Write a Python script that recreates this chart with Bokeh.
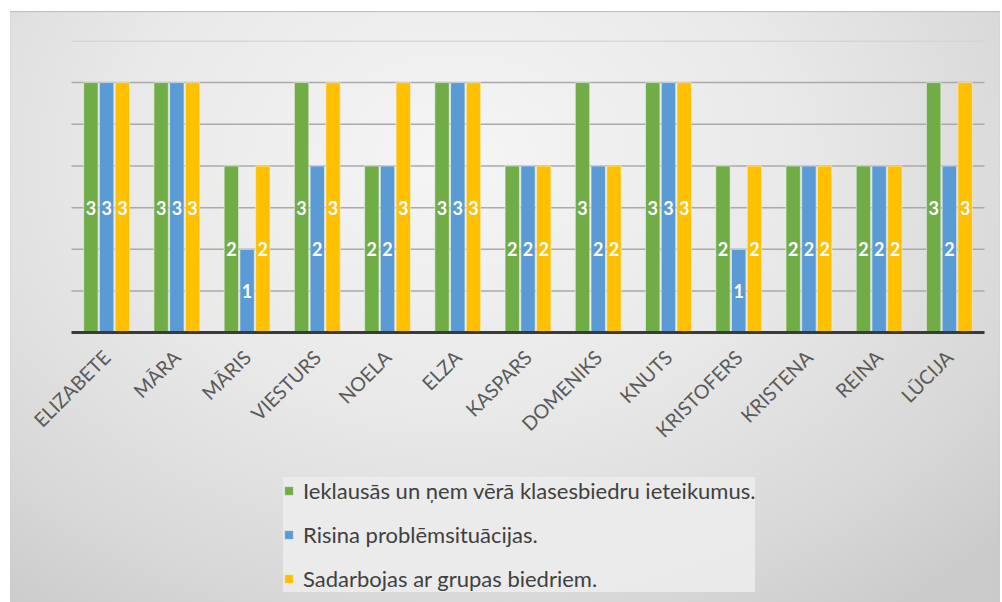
import math
from bokeh.plotting import figure
from bokeh.models import ColumnDataSource, Legend, LegendItem, InlineStyleSheet, Range1d, FixedTicker
from bokeh.transform import dodge
from bokeh.core.properties import value
from bokeh.embed import file_html
from bokeh.resources import INLINE

names = ["ELIZABETE", "MĀRA", "MĀRIS", "VIESTURS", "NOELA", "ELZA", "KASPARS",
         "DOMENIKS", "KNUTS", "KRISTOFERS", "KRISTENA", "REINA", "LŪCIJA"]
ieklausas = [3, 3, 2, 3, 2, 3, 2, 3, 3, 2, 2, 2, 3]
risina = [3, 3, 1, 2, 2, 3, 2, 2, 3, 1, 2, 2, 2]
sadarbojas = [3, 3, 2, 3, 3, 3, 2, 2, 3, 2, 2, 2, 3]
series_names = ["Ieklausās un ņem vērā klasesbiedru ieteikumus.",
                "Risina problēmsituācijas.",
                "Sadarbojas ar grupas biedriem."]
colors = ["#70AD47", "#5B9BD5", "#FFC000"]
grid_ticks = [0.5, 1.0, 1.5, 2.0, 2.5, 3.0]
top_tick = 3.5

n = len(names)
idx = list(range(n))
src = ColumnDataSource(dict(
    x=idx,
    s1=ieklausas, s2=risina, s3=sadarbojas,
    m1=[v / 2 for v in ieklausas], m2=[v / 2 for v in risina], m3=[v / 2 for v in sadarbojas],
    t1=[str(v) for v in ieklausas], t2=[str(v) for v in risina], t3=[str(v) for v in sadarbojas],
))

# frame spans the whole figure; categories occupy px 71..984 (70.23 px per category)
left_pad = 61 / 70.23
right_pad = 16 / 70.23
p = figure(x_range=Range1d(-0.5 - left_pad, n - 0.5 + right_pad), y_range=Range1d(-3.212, 3.505),
           width=990, height=591, output_backend="svg", toolbar_location=None,
           min_border_left=0, min_border_right=0, min_border_top=29, min_border_bottom=2)
p.background_fill_alpha = 0
p.border_fill_alpha = 0
p.outline_line_color = None
p.stylesheets = [InlineStyleSheet(css=":host { margin: 11px 0 0 10px; background: radial-gradient(ellipse 75% 95% at 45% 25%, #f5f5f5 0%, #e9e9e9 45%, #d8d8d8 80%, #cbcbcb 100%); box-shadow: inset 0 1px 1px #bbbbbb; }")]
p.xgrid.visible = False
p.ygrid.visible = False

# horizontal gridlines limited to the category span
p.segment(x0=[-0.5] * len(grid_ticks), x1=[n - 0.5] * len(grid_ticks), y0=grid_ticks, y1=grid_ticks,
          line_color="#aaaaaa", line_width=1.5)
p.segment(x0=[-0.5], x1=[n - 0.5], y0=[top_tick], y1=[top_tick], line_color="#d2d2d2", line_width=1.5)

offs = [-0.224, 0.0, 0.224]
renderers = []
for i, (col, off) in enumerate(zip(colors, offs)):
    r = p.vbar(x=dodge("x", off), top=f"s{i+1}", width=0.205, source=src,
               fill_color=col, line_color="#f0f0f0", line_width=1, line_alpha=0.6)
    renderers.append(r)
    p.text(x=dodge("x", off), y=f"m{i+1}", text=f"t{i+1}", source=src,
           text_color="white", text_font=value("Lato"), text_font_style="bold",
           text_font_size="18px", text_align="center", text_baseline="middle")

p.yaxis.visible = False

p.xaxis.fixed_location = 0
p.xaxis.bounds = (-0.5, n - 0.5)
p.xaxis.ticker = FixedTicker(ticks=idx)
p.xaxis.major_label_overrides = {i: nm for i, nm in enumerate(names)}
p.xaxis.major_label_orientation = math.pi / 4
p.xaxis.major_label_text_font = "Lato"
p.xaxis.major_label_text_font_size = "19.5px"
p.xaxis.major_label_text_color = "#595959"
p.xaxis.major_tick_line_color = None
p.xaxis.minor_tick_line_color = None
p.xaxis.axis_line_color = "#3a3a3a"
p.xaxis.axis_line_width = 3
p.xaxis.major_label_standoff = 15

legend = Legend(items=[LegendItem(label=series_names[i], renderers=[renderers[i]]) for i in range(3)],
                location=(273, 8))
legend.background_fill_color = "#ececec"
legend.background_fill_alpha = 0.9
legend.border_line_color = None
legend.label_text_font = "Lato"
legend.label_text_font_size = "22px"
legend.label_text_color = "#404040"
legend.glyph_width = 11
legend.glyph_height = 11
legend.label_height = 20
legend.spacing = 17
legend.padding = 8
legend.margin = 0
legend.label_standoff = 9
p.add_layout(legend, "center")

open("out.html", "w").write(file_html(p, INLINE))
